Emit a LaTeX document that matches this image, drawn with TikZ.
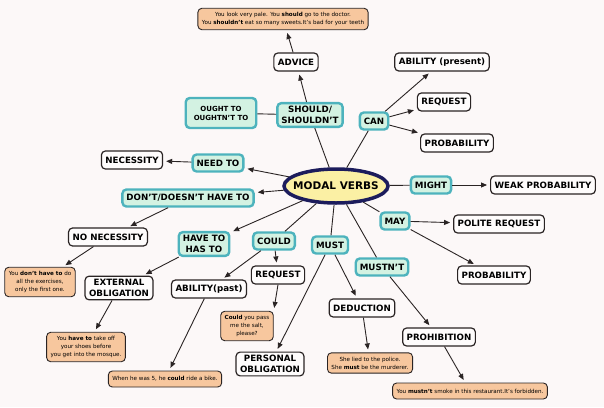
\documentclass[tikz,border=0pt]{standalone}
\usepackage{fontspec}
\setmainfont{DejaVu Sans}
\usetikzlibrary{shapes.geometric,arrows.meta}
\definecolor{bg}{HTML}{FCF8F8}
\definecolor{verbline}{HTML}{4DB3BD}
\definecolor{verbfill}{HTML}{D3F2E2}
\definecolor{hubline}{HTML}{1C1C5C}
\definecolor{hubfill}{HTML}{FBF0A4}
\definecolor{samplefill}{HTML}{F7C79E}
\definecolor{ink}{HTML}{2A2424}

\begin{document}
\begin{tikzpicture}[x=1pt,y=-1pt,
  hub/.style = {draw=hubline, line width=3.5pt, fill=hubfill, ellipse, minimum height=34pt, inner xsep=-6pt, inner ysep=0pt, font=\fontsize{10.5}{12}\selectfont\bfseries},
  verb/.style = {draw=verbline, line width=2.4pt, fill=verbfill, rounded corners=4pt, align=center, inner xsep=4pt, minimum height=17pt, font=\fontsize{8.7}{10.5}\selectfont\bfseries},
  idea/.style = {draw=ink, line width=1.2pt, fill=white!60!bg, rounded corners=4pt, align=center, inner xsep=4pt, minimum height=18pt, font=\fontsize{8.7}{10.5}\selectfont\bfseries},
  sample/.style = {draw=ink, line width=0.9pt, fill=samplefill, rounded corners=4pt, align=center, inner xsep=4pt, inner ysep=4pt, minimum height=16pt, font=\fontsize{5.6}{8}\selectfont},
  link/.style = {ink, line width=0.9pt},
  arr/.style = {link, -{Triangle[length=6pt,width=5pt]}, shorten >=3pt}]
\fill[bg] (0,0) rectangle (604,407);
\node[hub] (mv) at (336,186) {MODAL VERBS};
\node[verb] (should) at (310,115) {SHOULD/\\SHOULDN'T};
\node[verb, font=\fontsize{7}{9}\selectfont\bfseries, inner xsep=8pt, minimum height=30pt] (ought) at (221,113) {OUGHT TO\\OUGHTN'T TO};
\node[idea] (advice) at (296,62) {ADVICE};
\node[sample] (advex) at (283,19) {You look very pale. You \textbf{should} go to the doctor.\\You \textbf{shouldn't} eat so many sweets.It's bad for your teeth};
\node[verb] (can) at (374,121) {CAN};
\node[idea] (abpres) at (442,62) {ABILITY (present)};
\node[idea] (req1) at (444,102) {REQUEST};
\node[idea] (prob1) at (457,143) {PROBABILITY};
\node[verb] (need) at (218,163) {NEED TO};
\node[idea] (nec) at (132,160) {NECESSITY};
\node[verb] (might) at (431,185) {MIGHT};
\node[idea] (weak) at (543,185) {WEAK PROBABILITY};
\node[verb] (dont) at (188,198) {DON'T/DOESN'T HAVE TO};
\node[idea] (nonec) at (108,237) {NO NECESSITY};
\node[sample] (dontex) at (40,282) {You \textbf{don't have to} do\\all the exercises,\\only the first one.};
\node[verb] (have) at (204,244) {HAVE TO\\HAS TO};
\node[idea] (ext) at (119,288) {EXTERNAL\\OBLIGATION};
\node[sample] (haveex) at (86,347) {You \textbf{have to} take off\\your shoes before\\you get into the mosque.};
\node[verb] (could) at (274,241) {COULD};
\node[idea] (abpast) at (209,289) {ABILITY(past)};
\node[idea] (req2) at (278,275) {REQUEST};
\node[sample] (couldex) at (247,326) {\textbf{Could} you pass\\me the salt,\\please?};
\node[sample] (abex) at (165,379) {When he was 5, he \textbf{could} ride a bike.};
\node[verb] (must) at (330,245) {MUST};
\node[idea] (pers) at (270,364) {PERSONAL\\OBLIGATION};
\node[idea] (ded) at (362,308) {DEDUCTION};
\node[sample] (mustex) at (370,363) {She lied to the police.\\She \textbf{must} be the murderer.};
\node[verb] (mustnt) at (382,267) {MUSTN'T};
\node[idea] (proh) at (439,337) {PROHIBITION};
\node[sample] (mustntex) at (470,391) {You \textbf{mustn't} smoke in this restaurant.It's forbidden.};
\node[verb] (may) at (395,221) {MAY};
\node[idea] (polite) at (499,224) {POLITE REQUEST};
\node[idea] (prob2) at (494,275) {PROBABILITY};
\draw[link] (ought) to (should);
\draw[link] (mv) to (should);
\draw[arr] (should) to (advice);
\draw[arr] (advice) to (advex);
\draw[link] (mv) to (can);
\draw[arr] (can) to (abpres);
\draw[arr] (can) to (req1);
\draw[arr] (can) to (prob1);
\draw[arr] (mv) to (need);
\draw[arr] (need) to (nec);
\draw[link] (mv) to (might);
\draw[arr] (might) to (weak);
\draw[arr] (mv) to (dont);
\draw[arr] (dont) to (nonec);
\draw[arr] (nonec) to (dontex);
\draw[arr] (mv) to (have);
\draw[arr] (have) to (ext);
\draw[arr] (ext) to (haveex);
\draw[link] (mv) to (could);
\draw[arr] (could) to (abpast);
\draw[arr] (could) to (req2);
\draw[arr] (req2.south) to (couldex.north east);
\draw[arr] (abpast) to (abex);
\draw[link] (mv) to (must);
\draw[arr] (must) to (pers);
\draw[arr] (must) to (ded);
\draw[arr] (ded) to (mustex);
\draw[link] (mv) to (mustnt);
\draw[arr] (mustnt) to (proh);
\draw[arr] (proh) to (mustntex);
\draw[link] (mv) to (may);
\draw[arr] (may) to (polite);
\draw[arr] (may) to (prob2);
\end{tikzpicture}
\end{document}
